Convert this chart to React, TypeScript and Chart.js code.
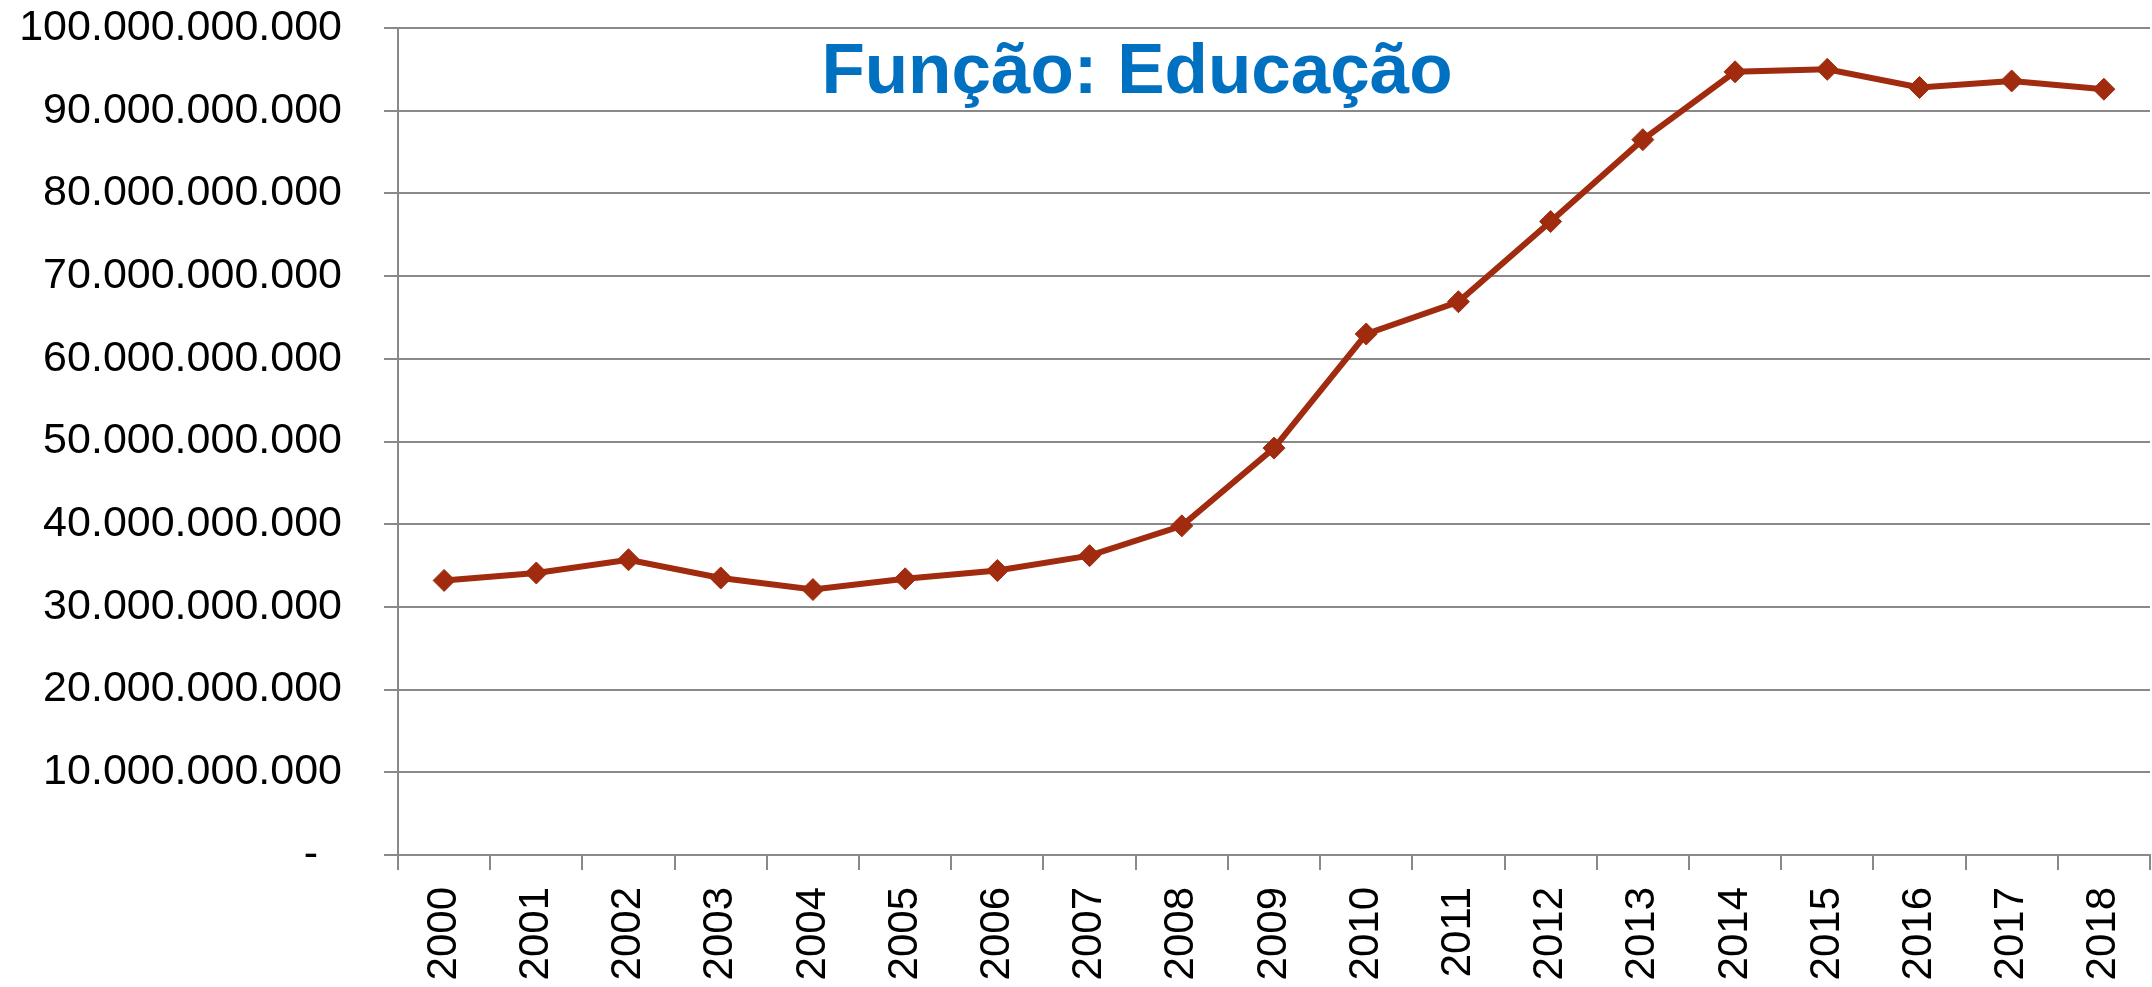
import React, { useEffect, useRef } from "react";
import { Chart, registerables } from "chart.js";

Chart.register(...registerables);

const years: string[] = [
  "2000", "2001", "2002", "2003", "2004", "2005", "2006", "2007", "2008", "2009",
  "2010", "2011", "2012", "2013", "2014", "2015", "2016", "2017", "2018",
];

// Values in billions (R$)
const educacaoBilhoes: number[] = [
  33.2, 34.1, 35.7, 33.5, 32.1, 33.4, 34.4, 36.2, 39.8, 49.2,
  63.0, 66.9, 76.6, 86.5, 94.7, 95.0, 92.8, 93.6, 92.6,
];

const titleText = "Função: Educação";
const yMin = 0;
const yMax = 100000000000;
const yStep = 10000000000;

const formatBR = (v: number): string => {
  if (v === 0) return "-  ";
  return String(Math.round(v)).replace(/\B(?=(\d{3})+(?!\d))/g, ".");
};

const titlePlugin = {
  id: "innerTitle",
  afterDraw(chart: any) {
    const ctx = chart.ctx;
    ctx.save();
    ctx.font = "bold 71px 'Liberation Sans', Arial, sans-serif";
    ctx.fillStyle = "#0070C0";
    ctx.textAlign = "center";
    ctx.textBaseline = "alphabetic";
    ctx.fillText(titleText, 1137, 93);
    ctx.restore();
  },
};

export default function App() {
  const canvasRef = useRef<HTMLCanvasElement | null>(null);

  useEffect(() => {
    if (!canvasRef.current) return;
    const gridColor = "#898989";
    const chart = new Chart(canvasRef.current, {
      type: "line",
      data: {
        labels: years,
        datasets: [
          {
            label: "Educação",
            data: educacaoBilhoes.map((v) => v * 1e9),
            borderColor: "#A02B0E",
            backgroundColor: "#A02B0E",
            borderWidth: 6,
            pointStyle: "rectRot",
            pointRadius: 11,
            pointBorderWidth: 1,
            pointBackgroundColor: "#A02B0E",
            pointBorderColor: "#A02B0E",
            tension: 0,
            fill: false,
          },
        ],
      },
      options: {
        animation: false,
        responsive: true,
        maintainAspectRatio: false,
        layout: { autoPadding: false, padding: { top: 28, right: 2, left: 0, bottom: 0 } },
        plugins: {
          legend: { display: false },
          title: { display: false },
          tooltip: { enabled: false },
        },
        scales: {
          x: {
            type: "category",
            offset: true,
            afterFit: (scale: any) => {
              scale.height = 132;
              scale.paddingLeft = 0;
              scale.paddingRight = 0;
              scale.paddingTop = 0;
              scale.paddingBottom = 0;
            },
            grid: {
              display: true,
              drawOnChartArea: false,
              drawTicks: true,
              tickLength: 15,
              offset: true,
              color: gridColor,
              lineWidth: 2,
            },
            border: { display: true, color: gridColor, width: 2 },
            ticks: {
              color: "#000",
              font: { family: "'Liberation Sans', Arial, sans-serif", size: 42 },
              minRotation: 90,
              maxRotation: 90,
              padding: 17,
              autoSkip: false,
            },
          },
          y: {
            min: yMin,
            max: yMax,
            afterFit: (scale: any) => {
              scale.width = 398;
              scale.paddingLeft = 0;
              scale.paddingRight = 0;
              scale.paddingTop = 0;
              scale.paddingBottom = 0;
            },
            grid: {
              color: gridColor,
              lineWidth: 2,
              drawTicks: true,
              tickLength: 14,
            },
            border: { display: true, color: gridColor, width: 2 },
            ticks: {
              stepSize: yStep,
              color: "#000",
              font: { family: "'Liberation Sans', Arial, sans-serif", size: 43 },
              padding: 42,
              callback: (value: any) => formatBR(Number(value)),
            },
          },
        },
      },
      plugins: [titlePlugin],
    });
    return () => chart.destroy();
  }, []);

  return (
    <div style={{ position: "absolute", left: 0, top: 0, width: 2152, height: 987, background: "#fff" }}>
      <canvas ref={canvasRef} />
    </div>
  );
}
